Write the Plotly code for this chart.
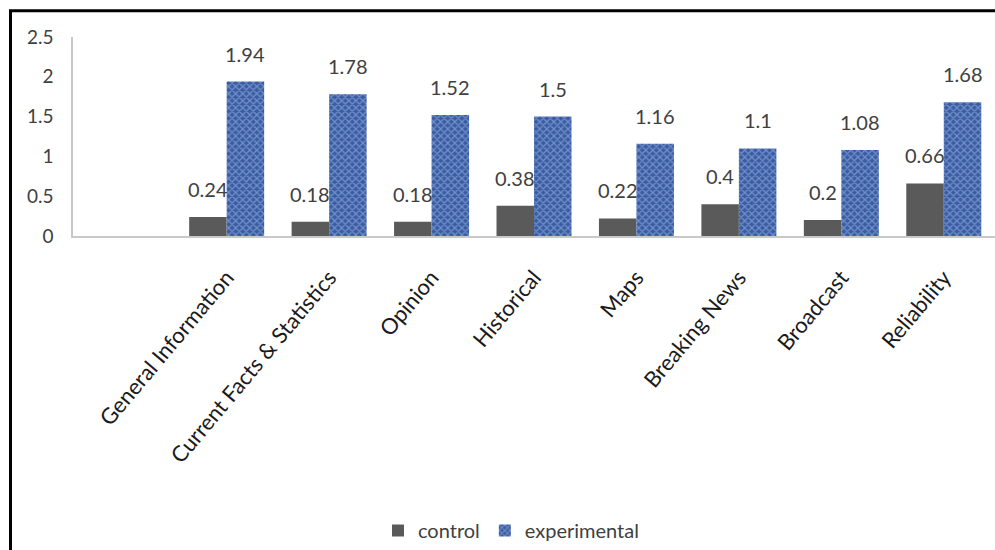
import plotly.graph_objects as go

categories = ["General Information", "Current Facts & Statistics", "Opinion", "Historical",
              "Maps", "Breaking News", "Broadcast", "Reliability"]
control = [0.24, 0.18, 0.18, 0.38, 0.22, 0.4, 0.2, 0.66]
experimental = [1.94, 1.78, 1.52, 1.5, 1.16, 1.1, 1.08, 1.68]
y_ticks = [0, 0.5, 1, 1.5, 2, 2.5]
y_tick_text = ["0", "0.5", "1", "1.5", "2", "2.5"]

W, H = 995, 550
L, R, T, B = 73, 0, 37, 312
PW, PH = W - L - R, H - T - B
FONT = "Lato, Carlito, Calibri, sans-serif"


def px_x(p):
    return (p - L) / PW


def px_y(p):
    return (H - B - p) / PH


x_idx = list(range(len(categories)))
offset = 0.183

fig = go.Figure()
fig.add_trace(go.Bar(
    name="control", x=x_idx, y=control, offset=-2 * offset, width=2 * offset,
    marker=dict(color="#5a5a5a", line=dict(width=0)),
))
fig.add_trace(go.Bar(
    name="experimental", x=x_idx, y=experimental, offset=0, width=2 * offset,
    marker=dict(
        color="#4a6db3",
        line=dict(width=0),
        pattern=dict(shape="x", fgcolor="#a9c2ec", bgcolor="#3a5ca3", size=5, solidity=0.45),
    ),
))

annotations = []
for i, (c, e) in enumerate(zip(control, experimental)):
    annotations.append(dict(x=i - offset, y=c, text=f"{c:g}", showarrow=False, yanchor="bottom",
                            yshift=14, font=dict(size=20, color="#404040", family=FONT)))
    annotations.append(dict(x=i + offset, y=e, text=f"{e:g}", showarrow=False, yanchor="bottom",
                            yshift=14, font=dict(size=20, color="#404040", family=FONT)))

fig.update_layout(
    width=W, height=H,
    margin=dict(l=L, r=R, t=T, b=B, pad=0),
    paper_bgcolor="white", plot_bgcolor="white",
    font=dict(family=FONT, size=18, color="#404040"),
    bargap=0.27, bargroupgap=0,
    showlegend=True,
    legend=dict(orientation="h", x=px_x(378), y=px_y(516), xanchor="left", yanchor="top",
                font=dict(size=20, color="#404040"), itemwidth=30, tracegroupgap=0),
    annotations=annotations,
    shapes=[dict(type="rect", xref="paper", yref="paper",
                 x0=px_x(10.5), x1=px_x(1010), y0=px_y(10.5), y1=px_y(570),
                 line=dict(color="black", width=3), layer="above")],
)
fig.update_xaxes(
    range=[-1.5, 7.5], tickmode="array", tickvals=x_idx, ticktext=categories,
    tickangle=-50, showgrid=False, zeroline=False,
    showline=True, linecolor="#c8c8c8", linewidth=2,
    ticks="outside", ticklen=18, tickcolor="rgba(0,0,0,0)",
    tickfont=dict(size=22, color="#1a1a1a"),
)
fig.update_yaxes(
    range=[0, 2.5], tickmode="array", tickvals=y_ticks, ticktext=y_tick_text,
    showgrid=False, zeroline=False, showline=True, linecolor="#c8c8c8", linewidth=1.5,
    ticks="outside", ticklen=14, tickcolor="rgba(0,0,0,0)",
    tickfont=dict(size=19, color="#404040"),
)

fig.write_html("out.html")
